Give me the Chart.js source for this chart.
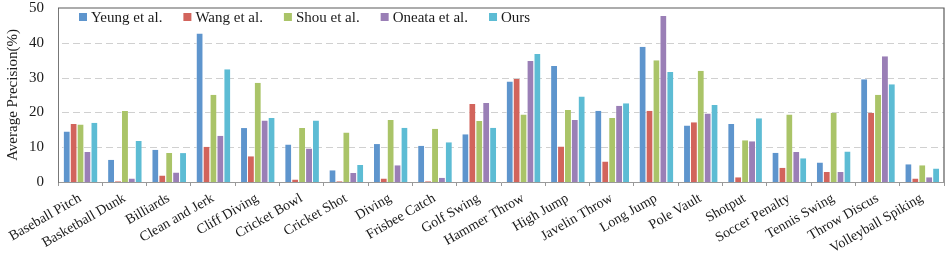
<!DOCTYPE html>
<html>
<head>
<meta charset="utf-8">
<script src="https://cdn.jsdelivr.net/npm/chart.js@4.4.1/dist/chart.umd.min.js"></script>
<style>
  html, body { margin: 0; padding: 0; background: #fff; }
</style>
</head>
<body>
<canvas id="apChart" width="951" height="253"></canvas>
<script>
// Per-class average precision (%)
const categories = ['Baseball Pitch', 'Basketball Dunk', 'Billiards', 'Clean and Jerk', 'Cliff Diving',
  'Cricket Bowl', 'Cricket Shot', 'Diving', 'Frisbee Catch', 'Golf Swing', 'Hammer Throw', 'High Jump',
  'Javelin Throw', 'Long Jump', 'Pole Vault', 'Shotput', 'Soccer Penalty', 'Tennis Swing', 'Throw Discus',
  'Volleyball Spiking'];
const seriesNames = ['Yeung et al.', 'Wang et al.', 'Shou et al.', 'Oneata et al.', 'Ours'];
const yeung  = [14.5, 6.4, 9.3, 42.7, 15.5, 10.8, 3.4, 10.9, 10.4, 13.7, 28.9, 33.3, 20.5, 38.9, 16.2, 16.7, 8.4, 5.6, 29.5, 5.1];
const wang   = [16.7, 0.2, 1.9, 10.1, 7.4, 0.7, 0.2, 1.0, 0.2, 22.4, 29.6, 10.2, 5.9, 20.5, 17.2, 1.4, 4.1, 2.9, 19.9, 1.0];
const shou   = [16.5, 20.4, 8.3, 25.1, 28.5, 15.5, 14.2, 17.8, 15.3, 17.5, 19.4, 20.7, 18.4, 35.0, 32.0, 12.0, 19.4, 19.9, 25.1, 4.8];
const oneata = [8.6, 1.0, 2.7, 13.3, 17.7, 9.6, 2.6, 4.8, 1.2, 22.7, 34.8, 17.8, 21.9, 47.7, 19.7, 11.7, 8.6, 2.9, 36.1, 1.4];
const ours   = [17.0, 11.8, 8.3, 32.4, 18.4, 17.7, 4.9, 15.6, 11.4, 15.6, 36.8, 24.6, 22.6, 31.6, 22.1, 18.3, 6.8, 8.8, 28.1, 3.9];
const yTicks = [0, 10, 20, 30, 40, 50];

const colors = ['#5e95cd', '#d2645c', '#aac468', '#9a7fb6', '#5dbcd4'];
const serif = '"Liberation Serif", "Times New Roman", serif';

const allSeries = [yeung, wang, shou, oneata, ours];
const datasets = allSeries.map((vals, i) => ({
  label: seriesNames[i],
  data: vals,
  backgroundColor: colors[i],
  borderColor: 'rgba(255,255,255,0.6)',
  borderWidth: { left: 1, right: 0, top: 0, bottom: 0 },
  categoryPercentage: 0.78,
  barPercentage: 1.0
}));

// dashed horizontal gridlines, drawn behind the bars
const dashedGrid = {
  id: 'dashedGrid',
  beforeDatasetsDraw(chart) {
    const { left, right } = chart.chartArea;
    const yScale = chart.scales.y;
    const ctx = chart.ctx;
    ctx.save();
    ctx.strokeStyle = '#d0d0d0';
    ctx.lineWidth = 1;
    ctx.setLineDash([7, 4]);
    yTicks.filter(v => v > 0 && v < 50).forEach(v => {
      const py = Math.round(yScale.getPixelForValue(v)) + 0.5;
      ctx.beginPath();
      ctx.moveTo(left + 4, py);
      ctx.lineTo(right, py);
      ctx.stroke();
    });
    ctx.restore();
  }
};

// legend drawn inside the plot area, along the top
const insideLegend = {
  id: 'insideLegend',
  afterDraw(chart) {
    const ctx = chart.ctx;
    ctx.save();
    ctx.font = '15px ' + serif;
    ctx.textBaseline = 'middle';
    let x = 79;
    const y = 18;
    chart.data.datasets.forEach(ds => {
      ctx.fillStyle = ds.backgroundColor;
      ctx.fillRect(x, y - 5, 8, 8);
      ctx.fillStyle = '#1a1a1a';
      ctx.fillText(ds.label, x + 12, y);
      x += 12 + ctx.measureText(ds.label).width + 21;
    });
    ctx.restore();
  }
};

// dark frame on the top and right of the plot
const frame = {
  id: 'frame',
  afterDraw(chart) {
    const { left, right, top, bottom } = chart.chartArea;
    const ctx = chart.ctx;
    ctx.save();
    ctx.strokeStyle = '#5a5a5a';
    ctx.lineWidth = 1.2;
    ctx.beginPath();
    ctx.moveTo(left, top);
    ctx.lineTo(right, top);
    ctx.lineTo(right, bottom);
    ctx.stroke();
    ctx.restore();
  }
};

new Chart(document.getElementById('apChart'), {
  type: 'bar',
  data: { labels: categories, datasets: datasets },
  options: {
    responsive: false,
    animation: false,
    layout: { padding: { top: 8, right: 7, left: 0, bottom: 0 } },
    plugins: {
      legend: { display: false },
      tooltip: { enabled: false }
    },
    scales: {
      x: {
        afterFit: scale => { scale.height = 71; },
        grid: {
          offset: true,
          drawOnChartArea: false,
          drawTicks: true,
          tickLength: 4,
          color: '#999'
        },
        border: { color: '#999', width: 1 },
        ticks: {
          minRotation: 30,
          maxRotation: 30,
          autoSkip: false,
          padding: 4,
          color: '#1a1a1a',
          font: { family: serif, size: 14 }
        }
      },
      y: {
        min: 0,
        max: 50,
        afterFit: scale => {
          scale.width = 58;
          scale.paddingTop = 0;
          scale.paddingBottom = 0;
        },
        afterBuildTicks: scale => { scale.ticks = yTicks.map(v => ({ value: v })); },
        grid: { display: false },
        border: { display: true, color: '#777', width: 1 },
        ticks: {
          padding: 6,
          color: '#1a1a1a',
          font: { family: serif, size: 15 }
        },
        title: {
          display: true,
          text: 'Average Precision(%)',
          color: '#1a1a1a',
          padding: { top: 4, bottom: 0 },
          font: { family: serif, size: 15 }
        }
      }
    }
  },
  plugins: [dashedGrid, insideLegend, frame]
});
</script>
</body>
</html>
